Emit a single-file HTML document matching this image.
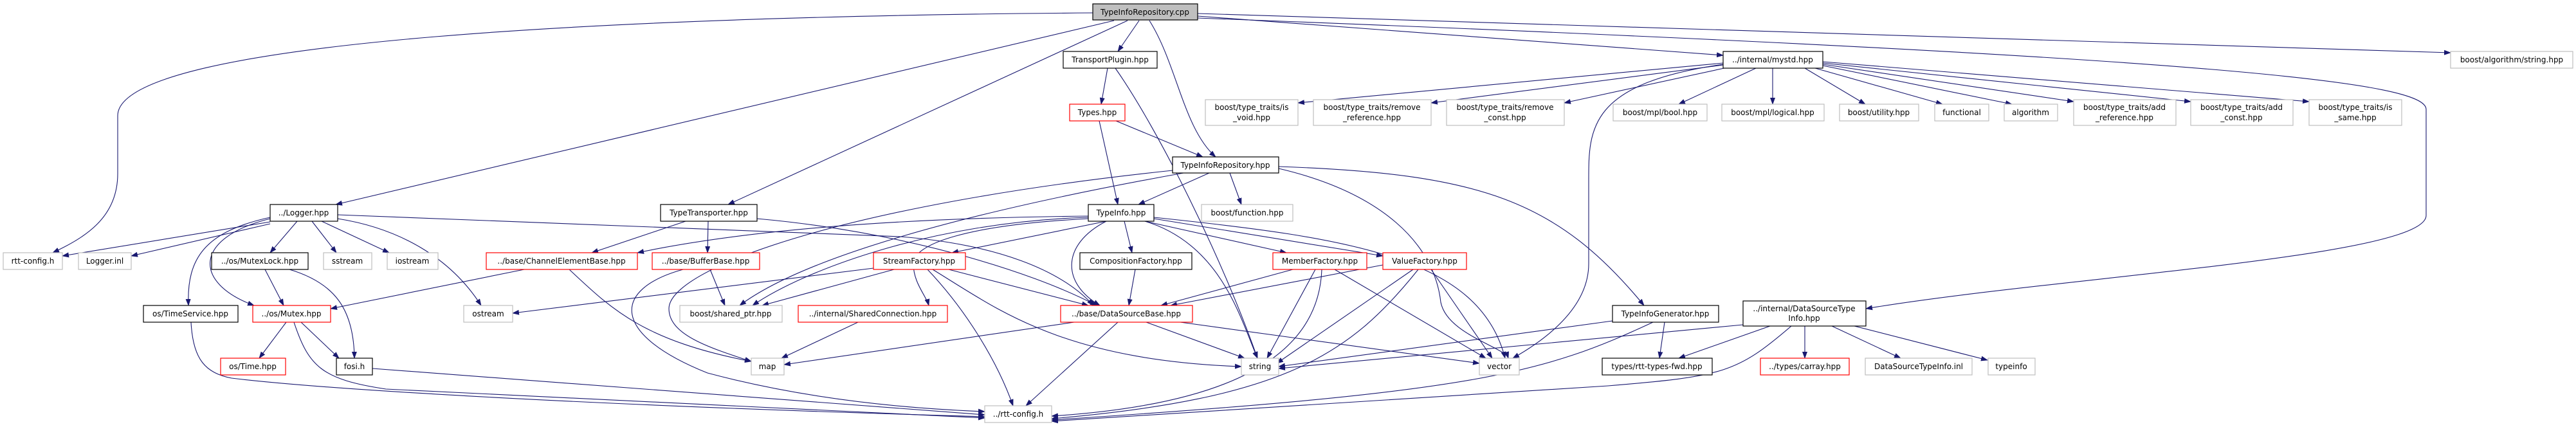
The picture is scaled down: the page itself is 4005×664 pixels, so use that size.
<!DOCTYPE html>
<html><head><meta charset="utf-8"><style>
html,body{margin:0;padding:0;background:#fff}
svg{display:block}
text{font-family:"DejaVu Sans","Liberation Sans",sans-serif;font-size:12px;fill:#000}
.e{fill:none;stroke:#191970;stroke-width:1.1}
.b{fill:#fff;stroke:#000;stroke-width:1.2}
.g{fill:#fff;stroke:#bfbfbf;stroke-width:1.2}
.r{fill:#fff;stroke:#ff0000;stroke-width:1.2}
</style></head><body>
<svg width="4005" height="664" viewBox="0 0 4005 664" xmlns="http://www.w3.org/2000/svg">
<defs><marker id="a" markerWidth="11" markerHeight="8" refX="10" refY="4" orient="auto" markerUnits="userSpaceOnUse"><path d="M0,0 L11,4 L0,8 z" fill="#191970"/></marker></defs>
<g class="e" marker-end="url(#a)">
<path d="M1699,20 C1000,25 183,60 183,180 L183,270 C183,340 130,370 82,393"/>
<path d="M1732,32 L522,318"/>
<path d="M1753,32 L1132,318"/>
<path d="M1771,32 L1738,80"/>
<path d="M1787,32 C1830,100 1840,200 1890,244"/>
<path d="M1862,25 L2679,86"/>
<path d="M1862,21 L3810,82"/>
<path d="M1862,28 C3500,90 3772,130 3772,170 L3772,335 C3772,400 3200,430 2901,480"/>
<path d="M1722,106 L1712,162"/>
<path d="M1734,106 C1800,200 1900,400 1955,557"/>
<path d="M1709,188 L1738,318"/>
<path d="M1735,188 L1870,244"/>
<path d="M1880,269 L1770,318"/>
<path d="M1912,269 L1930,318"/>
<path d="M1988,259 C2300,270 2420,310 2556,475"/>
<path d="M1988,262 C2150,300 2230,380 2240,470 C2250,520 2340,540 2345,557"/>
<path d="M1823,265 C1300,320 1040,420 1040,480 C1040,520 1100,540 1168,562"/>
<path d="M1840,269 C1500,330 1250,400 1150,475"/>
<path d="M2679,100 C2470,130 2470,200 2470,280 L2470,410 C2470,480 2400,530 2352,557"/>
<path d="M2679,98 L2018,160"/>
<path d="M2679,101 L2225,160"/>
<path d="M2690,104 L2432,160"/>
<path d="M2730,106 L2610,162"/>
<path d="M2756,106 L2756,162"/>
<path d="M2806,106 L2900,162"/>
<path d="M2815,104 L3020,162"/>
<path d="M2834,102 L3128,162"/>
<path d="M2834,100 L3224,158"/>
<path d="M2834,98 L3406,158"/>
<path d="M2834,96 L3590,158"/>
<path d="M1692,336 C1300,340 1100,370 991,393"/>
<path d="M1720,344 L1480,393"/>
<path d="M1692,340 C1500,350 1420,380 1420,410 C1420,440 1440,460 1444,475"/>
<path d="M1720,344 C1650,380 1650,440 1710,475"/>
<path d="M1748,344 L1760,393"/>
<path d="M1780,344 L2000,393"/>
<path d="M1794,340 L2150,398"/>
<path d="M1780,344 C1900,380 1930,500 1955,557"/>
<path d="M1794,338 C2100,370 2300,400 2340,557"/>
<path d="M1692,338 C1450,345 1250,420 1170,475"/>
<path d="M420,345 L97,398"/>
<path d="M420,348 L204,398"/>
<path d="M462,344 L420,393"/>
<path d="M485,344 L523,393"/>
<path d="M500,344 L605,393"/>
<path d="M420,338 C320,360 290,400 293,475"/>
<path d="M420,340 C300,370 300,440 395,475"/>
<path d="M525,340 C620,355 700,400 748,475"/>
<path d="M525,334 L1400,368 C1550,380 1650,420 1700,475"/>
<path d="M412,419 L441,475"/>
<path d="M450,419 C520,440 550,480 551,557"/>
<path d="M445,501 L403,557"/>
<path d="M468,501 L527,557"/>
<path d="M457,501 C480,570 500,590 600,605 L1531,650"/>
<path d="M297,501 C300,560 320,580 360,588 C500,605 900,630 1531,648"/>
<path d="M579,573 L1531,645"/>
<path d="M815,419 L514,480"/>
<path d="M885,419 C950,480 1000,530 1168,562"/>
<path d="M1104,419 L1127,475"/>
<path d="M1062,419 C950,450 950,520 1100,580 C1250,620 1400,635 1531,640"/>
<path d="M1066,344 L920,393"/>
<path d="M1101,344 L1100,393"/>
<path d="M1177,340 C1400,360 1600,420 1705,475"/>
<path d="M1358,417 L797,487"/>
<path d="M1390,419 L1185,475"/>
<path d="M1475,419 L1692,475"/>
<path d="M1450,419 C1550,480 1650,560 1930,570"/>
<path d="M1442,419 C1500,480 1550,560 1575,631"/>
<path d="M1334,501 L1215,557"/>
<path d="M1670,501 L1219,567"/>
<path d="M1782,501 L1935,557"/>
<path d="M1835,501 L2300,565"/>
<path d="M1738,501 L1595,631"/>
<path d="M1765,419 L1755,475"/>
<path d="M2010,419 L1805,475"/>
<path d="M2045,419 L1970,557"/>
<path d="M2075,419 L2310,557"/>
<path d="M2055,419 C2050,560 1900,630 1635,647"/>
<path d="M2150,412 L1820,475"/>
<path d="M2197,419 L1985,565"/>
<path d="M2225,419 L2320,557"/>
<path d="M2205,419 C2100,550 2000,620 1635,651"/>
<path d="M2507,499 L1988,570"/>
<path d="M2588,501 L2580,557"/>
<path d="M2570,501 C2400,580 2300,610 1635,653"/>
<path d="M2710,505 L1988,573"/>
<path d="M2752,507 L2610,557"/>
<path d="M2806,507 L2806,557"/>
<path d="M2848,507 L2955,557"/>
<path d="M2883,507 L3090,560"/>
<path d="M2785,507 C2700,580 2680,585 2500,600 L1635,655"/>
</g>
<g text-anchor="middle">
<rect x="1699" y="6" width="163" height="25" fill="#bfbfbf" stroke="#000" stroke-width="1.2"/><text x="1780" y="23">TypeInfoRepository.cpp</text>
<rect class="b" x="1653" y="80" width="146" height="26"/><text x="1726" y="97">TransportPlugin.hpp</text>
<rect class="b" x="2679" y="80" width="155" height="26"/><text x="2756" y="97">../internal/mystd.hpp</text>
<rect class="g" x="3810" y="80" width="190" height="26"/><text x="3905" y="97">boost/algorithm/string.hpp</text>
<rect class="r" x="1663" y="162" width="86" height="26"/><text x="1706" y="179">Types.hpp</text>
<rect class="g" x="1874" y="155" width="144" height="40"/><text x="1946" y="171">boost/type_traits/is</text><text x="1946" y="187">_void.hpp</text>
<rect class="g" x="2042" y="155" width="183" height="40"/><text x="2133" y="171">boost/type_traits/remove</text><text x="2133" y="187">_reference.hpp</text>
<rect class="g" x="2249" y="155" width="183" height="40"/><text x="2340" y="171">boost/type_traits/remove</text><text x="2340" y="187">_const.hpp</text>
<rect class="g" x="2508" y="162" width="146" height="26"/><text x="2581" y="179">boost/mpl/bool.hpp</text>
<rect class="g" x="2677" y="162" width="159" height="26"/><text x="2756" y="179">boost/mpl/logical.hpp</text>
<rect class="g" x="2860" y="162" width="123" height="26"/><text x="2921" y="179">boost/utility.hpp</text>
<rect class="g" x="3008" y="162" width="84" height="26"/><text x="3050" y="179">functional</text>
<rect class="g" x="3116" y="162" width="83" height="26"/><text x="3157" y="179">algorithm</text>
<rect class="g" x="3224" y="155" width="159" height="40"/><text x="3303" y="171">boost/type_traits/add</text><text x="3303" y="187">_reference.hpp</text>
<rect class="g" x="3406" y="155" width="159" height="40"/><text x="3485" y="171">boost/type_traits/add</text><text x="3485" y="187">_const.hpp</text>
<rect class="g" x="3590" y="155" width="144" height="40"/><text x="3662" y="171">boost/type_traits/is</text><text x="3662" y="187">_same.hpp</text>
<rect class="b" x="1823" y="244" width="165" height="25"/><text x="1905" y="261">TypeInfoRepository.hpp</text>
<rect class="b" x="420" y="318" width="105" height="26"/><text x="472" y="335">../Logger.hpp</text>
<rect class="b" x="1027" y="318" width="150" height="26"/><text x="1102" y="335">TypeTransporter.hpp</text>
<rect class="b" x="1692" y="318" width="102" height="26"/><text x="1743" y="335">TypeInfo.hpp</text>
<rect class="g" x="1868" y="318" width="142" height="26"/><text x="1939" y="335">boost/function.hpp</text>
<rect class="g" x="5" y="393" width="92" height="26"/><text x="51" y="410">rtt-config.h</text>
<rect class="g" x="122" y="393" width="82" height="26"/><text x="163" y="410">Logger.inl</text>
<rect class="b" x="329" y="393" width="150" height="26"/><text x="404" y="410">../os/MutexLock.hpp</text>
<rect class="g" x="503" y="393" width="75" height="26"/><text x="540" y="410">sstream</text>
<rect class="g" x="602" y="393" width="79" height="26"/><text x="641" y="410">iostream</text>
<rect class="r" x="756" y="393" width="235" height="26"/><text x="873" y="410">../base/ChannelElementBase.hpp</text>
<rect class="r" x="1014" y="393" width="167" height="26"/><text x="1097" y="410">../base/BufferBase.hpp</text>
<rect class="r" x="1358" y="393" width="143" height="26"/><text x="1429" y="410">StreamFactory.hpp</text>
<rect class="b" x="1679" y="393" width="174" height="26"/><text x="1766" y="410">CompositionFactory.hpp</text>
<rect class="r" x="1979" y="393" width="146" height="26"/><text x="2052" y="410">MemberFactory.hpp</text>
<rect class="r" x="2150" y="393" width="130" height="26"/><text x="2215" y="410">ValueFactory.hpp</text>
<rect class="b" x="223" y="475" width="147" height="26"/><text x="296" y="492">os/TimeService.hpp</text>
<rect class="r" x="393" y="475" width="121" height="26"/><text x="453" y="492">../os/Mutex.hpp</text>
<rect class="g" x="721" y="475" width="76" height="26"/><text x="759" y="492">ostream</text>
<rect class="g" x="1057" y="475" width="159" height="26"/><text x="1136" y="492">boost/shared_ptr.hpp</text>
<rect class="r" x="1241" y="475" width="232" height="26"/><text x="1357" y="492">../internal/SharedConnection.hpp</text>
<rect class="r" x="1649" y="475" width="205" height="26"/><text x="1751" y="492">../base/DataSourceBase.hpp</text>
<rect class="b" x="2507" y="475" width="165" height="26"/><text x="2589" y="492">TypeInfoGenerator.hpp</text>
<rect class="b" x="2710" y="468" width="191" height="39"/><text x="2805" y="484">../internal/DataSourceType</text><text x="2805" y="499">Info.hpp</text>
<rect class="r" x="343" y="557" width="101" height="26"/><text x="393" y="574">os/Time.hpp</text>
<rect class="b" x="523" y="557" width="56" height="26"/><text x="551" y="574">fosi.h</text>
<rect class="g" x="1168" y="557" width="51" height="26"/><text x="1193" y="574">map</text>
<rect class="g" x="1930" y="557" width="58" height="26"/><text x="1959" y="574">string</text>
<rect class="g" x="2300" y="557" width="62" height="26"/><text x="2331" y="574">vector</text>
<rect class="b" x="2491" y="557" width="171" height="26"/><text x="2576" y="574">types/rtt-types-fwd.hpp</text>
<rect class="r" x="2737" y="557" width="138" height="26"/><text x="2806" y="574">../types/carray.hpp</text>
<rect class="g" x="2900" y="557" width="166" height="26"/><text x="2983" y="574">DataSourceTypeInfo.inl</text>
<rect class="g" x="3091" y="557" width="73" height="26"/><text x="3127" y="574">typeinfo</text>
<rect class="g" x="1531" y="631" width="104" height="26"/><text x="1583" y="648">../rtt-config.h</text>
</g>
</svg>
</body></html>
